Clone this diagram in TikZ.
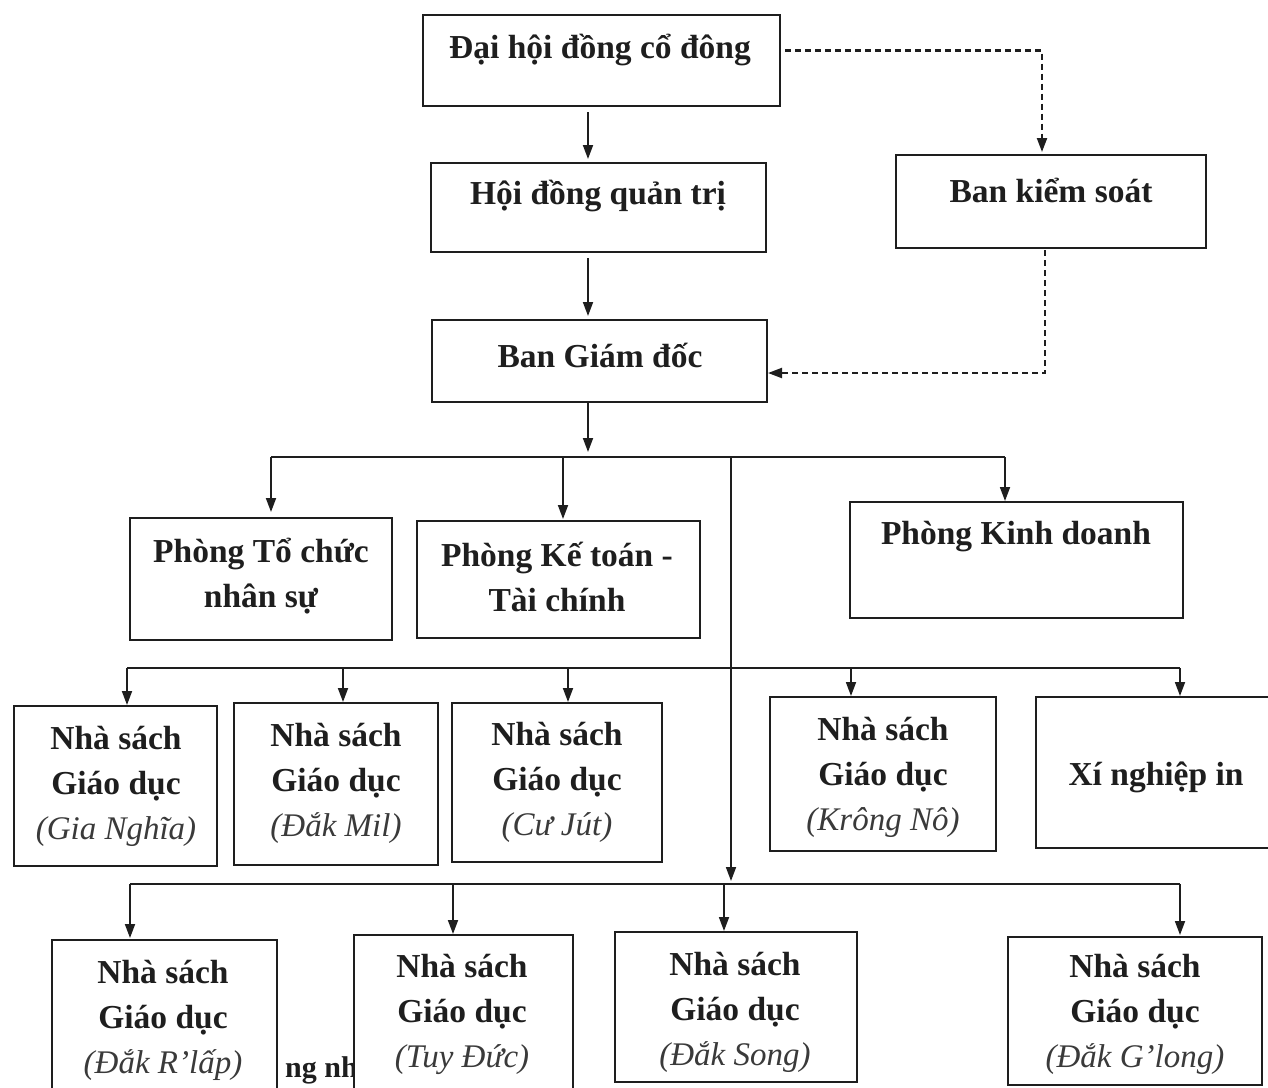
\documentclass[tikz,border=0pt]{standalone}
\usepackage{fontspec}
\setmainfont{Liberation Serif}
\usetikzlibrary{arrows.meta}
\definecolor{ink}{HTML}{1E1E1E}
\definecolor{inkit}{HTML}{3A3A3A}
\begin{document}
\begin{tikzpicture}[x=1pt,y=-1pt,
  box/.style={draw=ink, fill=white, line width=2.3pt, anchor=north west, inner sep=0pt, outer sep=0pt},
  lbl/.style={text=ink, font=\fontsize{33.5}{45}\selectfont\bfseries, align=center, inner sep=0pt},
  arr/.style={draw=ink, line width=1.8pt, -{Triangle[length=14pt,width=10pt]}},
  ln/.style={draw=ink, line width=1.8pt},
  darr/.style={draw=ink, line width=2.1pt, dash pattern=on 6pt off 4pt, -{Triangle[length=14pt,width=10pt]}},
]
\useasboundingbox (0,0) rectangle (1268,1087);
\newcommand{\plc}[1]{{\fontsize{33}{45}\selectfont\mdseries\itshape\color{inkit}#1}}

% fragment of a caption partly hidden behind the lower boxes
\node[text=ink, font=\fontsize{30}{36}\selectfont\bfseries, anchor=base west, inner sep=0pt] (frag) at (285,1077) {ng nh};

% boxes
\node[box, minimum width=357pt, minimum height=91pt] (dh) at (423,15) {};
\node[box, minimum width=335pt, minimum height=89pt] (hd) at (431,163) {};
\node[box, minimum width=310pt, minimum height=93pt] (bks) at (896,155) {};
\node[box, minimum width=335pt, minimum height=82pt] (bgd) at (432,320) {};
\node[box, minimum width=262pt, minimum height=122pt] (ptc) at (130,518) {};
\node[box, minimum width=283pt, minimum height=117pt] (pkt) at (417,521) {};
\node[box, minimum width=333pt, minimum height=116pt] (pkd) at (850,502) {};
\node[box, minimum width=203pt, minimum height=160pt] (gn) at (14,706) {};
\node[box, minimum width=204pt, minimum height=162pt] (dm) at (234,703) {};
\node[box, minimum width=210pt, minimum height=159pt] (cj) at (452,703) {};
\node[box, minimum width=226pt, minimum height=154pt] (kn) at (770,697) {};
\node[box, minimum width=240pt, minimum height=151pt] (xn) at (1036,697) {};
\node[box, minimum width=225pt, minimum height=160pt] (drl) at (52,940) {};
\node[box, minimum width=219pt, minimum height=160pt] (td) at (354,935) {};
\node[box, minimum width=242pt, minimum height=150pt] (ds) at (615,932) {};
\node[box, minimum width=254pt, minimum height=148pt] (dgl) at (1008,937) {};

% texts
\node[lbl] (tdh) at (600,50) {Đại hội đồng cổ đông};
\node[lbl] (thd) at (598,196) {Hội đồng quản trị};
\node[lbl] (tbks) at (1051,190) {Ban kiểm soát};
\node[lbl] (tbgd) at (600,355) {Ban Giám đốc};
\node[lbl] (tptc) at (261,576) {Phòng Tổ chức\\nhân sự};
\node[lbl] (tpkt) at (557,577) {Phòng Kế toán -\\Tài chính};
\node[lbl] (tpkd) at (1016,537) {Phòng Kinh doanh};
\node[lbl] (tgn) at (116,786) {Nhà sách\\Giáo dục\\\plc{(Gia Nghĩa)}};
\node[lbl] (tdm) at (336,783) {Nhà sách\\Giáo dục\\\plc{(Đắk Mil)}};
\node[lbl] (tcj) at (557,782) {Nhà sách\\Giáo dục\\\plc{(Cư Jút)}};
\node[lbl] (tkn) at (883,777) {Nhà sách\\Giáo dục\\\plc{(Krông Nô)}};
\node[lbl] (txn) at (1156,777) {Xí nghiệp in};
\node[lbl] (tdrl) at (163,1020) {Nhà sách\\Giáo dục\\\plc{(Đắk R’lấp)}};
\node[lbl] (ttd) at (462,1014) {Nhà sách\\Giáo dục\\\plc{(Tuy Đức)}};
\node[lbl] (tds) at (735,1012) {Nhà sách\\Giáo dục\\\plc{(Đắk Song)}};
\node[lbl] (tdgl) at (1135,1014) {Nhà sách\\Giáo dục\\\plc{(Đắk G’long)}};

% helper coordinates
\coordinate (x588) at (588,0);
\coordinate (ks1) at (1042,0);
\coordinate (ks2) at (1045,0);
\coordinate (b1a) at (271,457);
\coordinate (b1b) at (563,457);
\coordinate (b1c) at (1005,457);
\coordinate (v1) at (731,457);
\coordinate (v2) at (731,884);
\coordinate (b2a) at (127,668);
\coordinate (b2b) at (343,668);
\coordinate (b2c) at (568,668);
\coordinate (b2d) at (851,668);
\coordinate (b2e) at (1180,668);
\coordinate (b3a) at (130,884);
\coordinate (b3b) at (453,884);
\coordinate (b3c) at (724,884);
\coordinate (b3d) at (1180,884);

% main chain
\draw[arr, shorten <=6pt, shorten >=4pt] (dh.south -| x588) -- (hd.north -| x588);
\draw[arr, shorten <=6pt, shorten >=4pt] (hd.south -| x588) -- (bgd.north -| x588);
\draw[arr, shorten >=5pt] (bgd.south -| x588) -- (x588 |- b1a);

% dashed control links
\draw[darr, shorten <=5pt, shorten >=3pt] ([yshift=10pt]dh.east) -| (bks.north -| ks1);
\draw[darr, shorten <=2pt, shorten >=1pt] (bks.south -| ks2) |- ([yshift=-12pt]bgd.east);

% bus 1
\draw[ln] (b1a) -- (b1c);
\draw[arr, shorten >=6pt] (b1a) -- (ptc.north -| b1a);
\draw[arr, shorten >=2pt] (b1b) -- (pkt.north -| b1b);
\draw[arr, shorten >=1pt] (b1c) -- (pkd.north -| b1c);
\draw[arr, shorten >=3pt] (v1) -- (v2);

% bus 2
\draw[ln] (b2a) -- (b2e);
\draw[arr, shorten >=1pt] (b2a) -- (gn.north -| b2a);
\draw[arr, shorten >=1pt] (b2b) -- (dm.north -| b2b);
\draw[arr, shorten >=1pt] (b2c) -- (cj.north -| b2c);
\draw[arr, shorten >=1pt] (b2d) -- (kn.north -| b2d);
\draw[arr, shorten >=1pt] (b2e) -- (xn.north -| b2e);

% bus 3
\draw[ln] (b3a) -- (b3d);
\draw[arr, shorten >=2pt] (b3a) -- (drl.north -| b3a);
\draw[arr, shorten >=1pt] (b3b) -- (td.north -| b3b);
\draw[arr, shorten >=1pt] (b3c) -- (ds.north -| b3c);
\draw[arr, shorten >=2pt] (b3d) -- (dgl.north -| b3d);
\end{tikzpicture}
\end{document}
